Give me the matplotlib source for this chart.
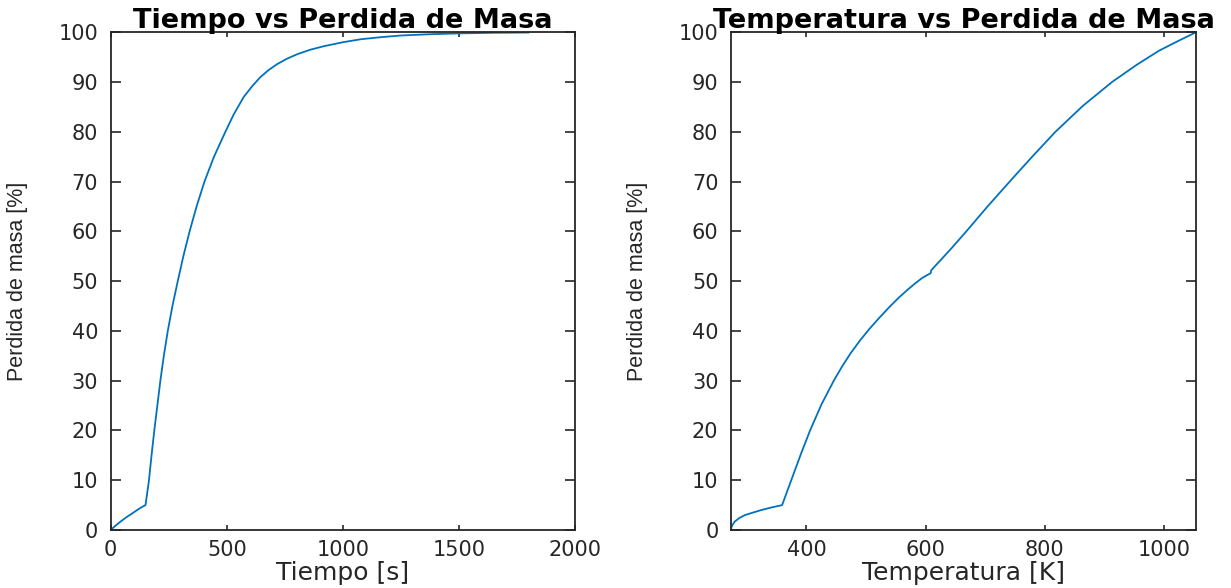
import matplotlib
matplotlib.use('Agg')
import matplotlib.pyplot as plt

plt.rcParams['font.family'] = 'DejaVu Sans'
plt.rcParams['font.size'] = 15

# datos
tiempo = [0, 20, 40, 60, 75, 95, 112, 130, 150, 165, 176, 188, 201, 214, 229, 246, 266, 289, 313,
          340, 370, 404, 445, 494, 530, 573, 610, 645, 680, 717, 760, 804, 860, 918, 1000, 1077,
          1160, 1250, 1370, 1500, 1650, 1800]
masa_t = [0, 0.85, 1.6, 2.3, 2.8, 3.4, 3.95, 4.5, 5.0, 10, 15, 20, 25, 30, 35, 40, 45, 50, 55,
          60, 65, 70, 75, 80, 83.5, 87.0, 89.2, 91.0, 92.4, 93.6, 94.7, 95.6, 96.5, 97.2, 98.0, 98.6,
          99.0, 99.35, 99.6, 99.78, 99.9, 99.95]

temperatura = [273.15, 274, 276, 279.5, 287, 296.5, 310, 323.7, 340, 359, 375, 391, 406, 425,
               445.8, 460, 474, 490, 505.6, 522, 540, 556, 570, 583, 595, 608.5, 609.6, 642.7,
               668.4, 704, 741.2, 779, 818, 864, 913, 955, 992, 1025, 1054]
masa_T = [0, 0.6, 1.1, 1.7, 2.4, 3.0, 3.5, 4.0, 4.5, 5.0, 10.2, 15.4, 20, 25.2,
          30, 32.9, 35.5, 38.1, 40.4, 42.6, 44.9, 46.8, 48.3, 49.6, 50.7, 51.6, 52.2, 56.5,
          60, 65, 70, 75, 80, 85.2, 90, 93.5, 96.3, 98.3, 100]

x_ticks_t = [0, 500, 1000, 1500, 2000]
x_ticks_T = [400, 600, 800, 1000]
y_ticks = list(range(0, 101, 10))

azul = '#0072BD'
gris = '#262626'

fig = plt.figure(figsize=(12.31, 5.88), dpi=100)
ax1 = fig.add_axes([0.0899, 0.0986, 0.3772, 0.8465])
ax2 = fig.add_axes([0.5938, 0.0986, 0.3777, 0.8465])


def estilo(ax):
    for s in ax.spines.values():
        s.set_color(gris)
        s.set_linewidth(1.3)
    ax.tick_params(direction='in', top=True, right=True, colors=gris, labelsize=15, width=1.2)
    ax.tick_params(axis='x', length=3.6, pad=7)
    ax.tick_params(axis='y', length=7, pad=9)
    ax.set_yticks(y_ticks)
    ax.set_ylim(0, 100)
    ax.set_ylabel('Perdida de masa [%]', family=['Liberation Sans', 'DejaVu Sans'],
                  fontsize=15.5, color=gris)
    ax.yaxis.set_label_coords(-0.178, 0.5)


ax1.plot(tiempo, masa_t, color=azul, lw=1.3)
estilo(ax1)
ax1.set_xlim(0, 2000)
ax1.set_xticks(x_ticks_t)
ax1.set_xlabel('Tiempo [s]', fontsize=18, color=gris, labelpad=1)
ax1.set_title('Tiempo vs Perdida de Masa', fontsize=19.5, fontweight='bold', pad=3)

ax2.plot(temperatura, masa_T, color=azul, lw=1.3)
estilo(ax2)
ax2.set_xlim(273.15, 1054)
ax2.set_xticks(x_ticks_T)
ax2.set_xlabel('Temperatura [K]', fontsize=18, color=gris, labelpad=1)
ax2.set_title('Temperatura vs Perdida de Masa', fontsize=19.5, fontweight='bold', pad=3)

plt.savefig('out.png', dpi=100)
